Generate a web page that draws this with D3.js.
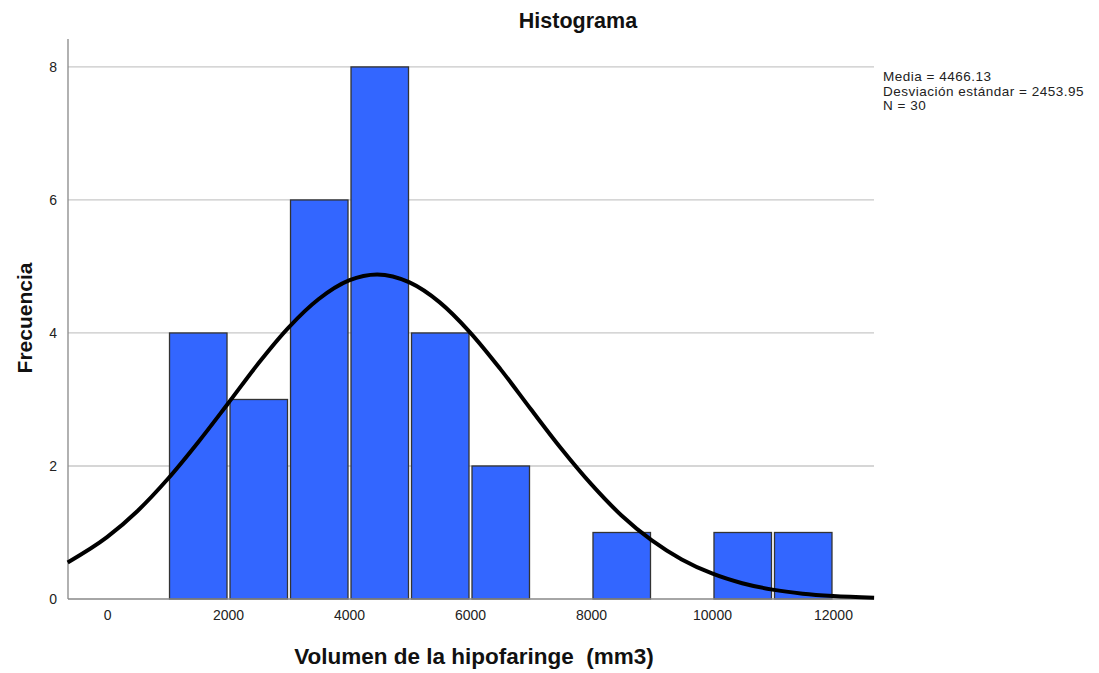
<!DOCTYPE html>
<html>
<head>
<meta charset="utf-8">
<script src="https://cdn.jsdelivr.net/npm/d3@7"></script>
<style>
  body { margin: 0; background: #fff; }
  text { font-family: "Liberation Sans", Arial, sans-serif; }
</style>
</head>
<body>
<div id="chart"></div>
<script>
// Histogram bins (lower edge, upper edge, count)
var binStart = [1000, 2000, 3000, 4000, 5000, 6000, 8000, 10000, 11000];
var binEnd   = [2000, 3000, 4000, 5000, 6000, 7000, 9000, 11000, 12000];
var counts   = [4, 3, 6, 8, 4, 2, 1, 1, 1];

// Normal curve points
var curveX = [-650, 0, 500, 1000, 1500, 2000, 2500, 3000, 3500, 4000, 4466, 5000, 5500, 6000, 6500,
              7000, 7500, 8000, 8500, 9000, 9500, 10000, 10500, 11000, 11500, 12000, 12680];
var curveY = [0.55, 0.93, 1.32, 1.80, 2.35, 2.94, 3.54, 4.08, 4.51, 4.79, 4.88, 4.76, 4.46, 4.01, 3.46,
              2.86, 2.27, 1.73, 1.26, 0.885, 0.595, 0.384, 0.237, 0.141, 0.080, 0.044, 0.019];

var xTicks = [0, 2000, 4000, 6000, 8000, 10000, 12000];
var yTicks = [0, 2, 4, 6, 8];
var statsLines = ["Media = 4466.13", "Desviación estándar = 2453.95", "N = 30"];

var W = 1099, H = 673;
var plotLeft = 68, plotRight = 874, plotTop = 39, plotBottom = 599;

var svg = d3.select("#chart").append("svg")
    .attr("width", W)
    .attr("height", H);

var x = d3.scaleLinear().domain([-645, 12678]).range([plotLeft, plotRight]);
var y = d3.scaleLinear().domain([0, 8.42]).range([plotBottom, plotTop]);

// gridlines
svg.append("g")
    .selectAll("line")
    .data(yTicks.filter(function(d) { return d > 0; }))
    .enter().append("line")
    .attr("x1", plotLeft).attr("x2", plotRight)
    .attr("y1", function(d) { return y(d); })
    .attr("y2", function(d) { return y(d); })
    .style("stroke", "#c8c8c8")
    .style("stroke-width", 1.3);

// bars
svg.append("g")
    .selectAll("rect")
    .data(counts)
    .enter().append("rect")
    .attr("x", function(d, i) { return x(binStart[i]) + 2; })
    .attr("y", function(d) { return y(d); })
    .attr("width", function(d, i) { return x(binEnd[i]) - x(binStart[i]) - 3; })
    .attr("height", function(d) { return y(0) - y(d); })
    .style("fill", "#3366ff")
    .style("stroke", "#333")
    .style("stroke-width", 1.3);

// axes
var yAxis = svg.append("g")
    .attr("transform", "translate(" + (plotLeft - 3) + ",0)")
    .call(d3.axisLeft(y).tickValues(yTicks).tickSize(0).tickPadding(8));
yAxis.select(".domain").remove();
yAxis.selectAll("text")
    .style("font-size", "14px")
    .style("fill", "#222");

var xAxis = svg.append("g")
    .attr("transform", "translate(0," + plotBottom + ")")
    .call(d3.axisBottom(x).tickValues(xTicks).tickFormat(d3.format("d")).tickSize(0).tickPadding(11));
xAxis.select(".domain").remove();
xAxis.selectAll("text")
    .style("font-size", "14px")
    .style("fill", "#222");

svg.append("line")
    .attr("x1", plotLeft).attr("x2", plotLeft)
    .attr("y1", plotTop).attr("y2", plotBottom)
    .style("stroke", "#888").style("stroke-width", 1.3);
svg.append("line")
    .attr("x1", plotLeft).attr("x2", plotRight)
    .attr("y1", plotBottom).attr("y2", plotBottom)
    .style("stroke", "#888").style("stroke-width", 1.3);

// normal curve
var line = d3.line()
    .x(function(d, i) { return x(curveX[i]); })
    .y(function(d) { return y(d); })
    .curve(d3.curveMonotoneX);

svg.append("path")
    .datum(curveY)
    .attr("d", line)
    .style("fill", "none")
    .style("stroke", "#000")
    .style("stroke-width", 4);

// title and labels
svg.append("text")
    .attr("x", 578).attr("y", 28)
    .style("text-anchor", "middle")
    .style("font-size", "21.5px")
    .style("font-weight", "bold")
    .style("fill", "#111")
    .text("Histograma");

svg.append("text")
    .attr("x", 474).attr("y", 664)
    .style("text-anchor", "middle")
    .style("font-size", "22.5px")
    .style("font-weight", "bold")
    .style("fill", "#111")
    .style("white-space", "pre")
    .text("Volumen de la hipofaringe  (mm3)");

svg.append("text")
    .attr("transform", "translate(32,318) rotate(-90)")
    .style("text-anchor", "middle")
    .style("font-size", "21px")
    .style("font-weight", "bold")
    .style("fill", "#111")
    .text("Frecuencia");

// stats box text
svg.append("g")
    .selectAll("text")
    .data(statsLines)
    .enter().append("text")
    .attr("x", 883)
    .attr("y", function(d, i) { return 81 + i * 14.5; })
    .style("font-size", "13.5px")
    .style("letter-spacing", "0.5px")
    .style("fill", "#222")
    .text(function(d) { return d; });
</script>
</body>
</html>
